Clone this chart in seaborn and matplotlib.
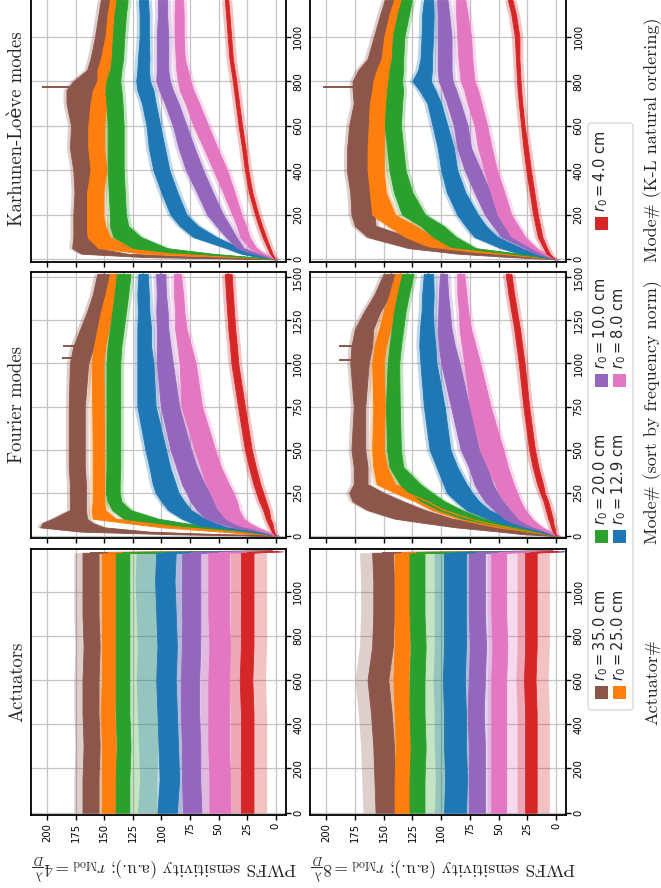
import matplotlib.pyplot as plt
import numpy as np
import seaborn as sns
from matplotlib.patches import FancyBboxPatch, Rectangle

# r0 values (legend order) and their tab10 colours
R0_CM = ["35.0", "25.0", "20.0", "12.9", "10.0", "8.0", "4.0"]
_tab = sns.color_palette("tab10")
COLORS = [_tab[5], _tab[1], _tab[2], _tab[0], _tab[4], _tab[6], _tab[3]]

# ---------------- Actuators ----------------
ACT_MODES = [0, 150, 300, 450, 600, 750, 900, 1050, 1176, 1183]
A4_MID = [
    [162, 162, 161, 162, 162, 161, 162, 162, 162, 3],
    [146, 146, 146, 147, 146, 146, 146, 146, 146, 3],
    [134, 134, 133, 134, 134, 134, 134, 134, 134, 3],
    [95, 93, 94, 95, 96, 95, 96, 97, 96, 3],
    [73, 74, 74, 75, 75, 74, 74, 74, 74, 3],
    [49, 49, 50, 50, 50, 49, 50, 50, 50, 3],
    [25, 25, 25, 25, 26, 25, 25, 25, 25, 3],
]
A4_HALF = [7, 6, 6, 8.5, 8, 9, 5.5]
A4_BELOW = [18.5, 15, 30, 17, 19, 19, 17]
A4_ABOVE = [14.5, 11, 11, 26, 14, 16, 15]

A8_MID = [
    [148, 149, 150, 152, 155, 151, 150, 150, 151, 3],
    [134, 134, 133, 134, 135, 134, 134, 134, 134, 3],
    [121, 121, 120, 121, 121, 120, 121, 121, 121, 3],
    [88, 87, 88, 88, 89, 88, 88, 88, 88, 3],
    [69, 69, 69, 70, 69, 68, 69, 69, 69, 3],
    [50, 50, 50, 50, 50, 49, 50, 50, 50, 3],
    [22, 22, 22, 22, 23, 22, 22, 22, 22, 3],
]
A8_HALF = [9, 6.5, 6.5, 9.5, 7, 6.5, 5]
A8_BELOW = [14, 12, 26, 16, 21, 28, 16]
A8_ABOVE = [20, 12, 10, 18, 11, 10, 12]

# ---------------- Fourier modes ----------------
FOU_MODES = [0, 10, 25, 50, 75, 100, 150, 200, 250, 300, 400, 500, 750, 1000,
             1100, 1200, 1300, 1400, 1520]
F4_MID = [
    [0, 70, 140, 178, 182, 180, 173, 173, 173, 173, 174, 174, 174, 172, 168, 163, 157, 153, 150],
    [0, 15, 37, 84, 115, 150, 155, 155, 155, 155, 155, 155, 155.5, 156, 154, 151, 148, 144, 140],
    [0, 10, 25, 66, 95, 118, 135, 141, 142.5, 142.5, 142, 142, 142, 142, 141, 139, 137, 135, 133],
    [0, 8, 22, 52, 63, 72, 84, 90, 95, 97.5, 101.5, 105, 113, 114, 115, 115, 115.5, 116, 116],
    [0, 5, 14, 31, 42, 52, 60, 64.5, 68, 72, 78, 83, 92.5, 97, 98, 99, 99.5, 100, 100.6],
    [0, 4, 11, 22, 30, 36, 41, 44, 47, 51, 57, 62, 73.5, 77, 80, 83, 84, 85, 86],
    [0, 1, 2.5, 3.8, 5, 6.7, 8.5, 11.5, 14, 16.5, 20.5, 24, 30, 35.8, 37, 38.5, 39.5, 40.5, 41.6],
]
F4_HALF = [
    [1, 20, 30, 28, 22, 15, 7, 7, 7, 7, 7, 7, 7, 8, 9, 8, 8, 7, 6],
    [1, 5, 10, 15, 15, 10, 6, 5, 5, 5, 5, 5, 5, 5, 5, 5, 5, 5, 5],
    [1, 4, 8, 12, 15, 15, 8, 6, 6, 6, 6, 6, 6, 6, 6, 6, 6, 6, 6],
    [1, 3, 6, 10, 10, 10, 10, 10, 10, 10, 9, 9, 8, 7, 6, 6, 5, 5, 4],
    [1, 2, 5, 7, 8, 9, 9, 10, 10, 10, 9, 9, 8, 7, 6, 5, 5, 4, 4],
    [1, 2, 4, 6, 7, 8, 9, 10, 10, 10, 9, 9, 9, 7, 6, 5, 4, 4, 3],
    [0.5, 0.5, 1, 1.5, 2, 2, 2.5, 3, 3, 3, 3, 3, 3, 3, 3, 3, 3, 3, 3],
]
F8_MID = [
    [0, 20, 34, 67, 92, 115, 139, 155, 165, 170, 170, 172, 171, 171, 169, 167, 160, 151, 143],
    [0, 10, 22, 43, 60, 75, 98, 112, 130, 148, 153, 155, 154, 155, 153, 149, 145, 140, 135],
    [0, 8, 18, 37, 55, 72, 92, 107, 118, 127, 139, 141, 142, 141.5, 140, 138, 136, 133, 129],
    [0, 6, 15, 30, 41, 51, 68, 77, 84, 88, 95, 101, 106, 111, 112, 112.5, 112, 111.5, 111],
    [0, 4, 11, 23, 31, 38, 47, 54, 59, 63, 68, 75, 83.5, 92, 95, 97, 97.5, 98, 98],
    [0, 3, 8, 16, 22, 27, 33, 38, 42, 45, 51, 56, 66, 73, 76, 79, 80.5, 82, 83],
    [0, 1, 2, 3, 4, 5, 7, 9, 12, 14, 18, 21, 26, 30, 32, 34, 36.5, 39, 41.5],
]
F8_HALF = [
    [1, 8, 15, 20, 22, 25, 25, 22, 15, 6, 6, 6, 5, 8, 9, 8, 7, 7, 7],
    [1, 4, 6, 8, 10, 10, 10, 10, 10, 8, 6, 5, 5, 5, 5, 5, 5, 5, 5],
    [1, 3, 5, 7, 8, 9, 10, 10, 10, 9, 6, 6, 6, 5, 5, 5, 5, 5, 5],
    [1, 2, 4, 7, 8, 9, 10, 10, 11, 10, 9, 9, 9, 7, 7, 6, 5, 5, 4],
    [1, 2, 3, 6, 7, 7, 7, 8, 8, 8, 8, 8, 8, 8, 7, 6, 5, 4, 3],
    [1, 1.5, 3, 4, 5, 6, 6, 7, 8, 8, 9, 10, 9, 7, 6, 5, 4, 4, 3],
    [0.5, 0.5, 1, 1.5, 1.5, 2, 2, 2, 2, 2.5, 2.5, 2.5, 2.5, 2.5, 2.5, 2.5, 2.5, 2.5, 2.5],
]

# ---------------- Karhunen-Loeve modes ----------------
KL_MODES = [0, 10, 25, 50, 100, 150, 200, 300, 400, 500, 600, 700, 760, 800,
            850, 900, 1000, 1100, 1165]
K4_MID = [
    [0, 90, 150, 167, 165, 167, 168, 168, 168, 170, 169, 171, 171, 167, 159, 156, 153, 150, 147],
    [0, 40, 95, 140, 155, 157, 158, 158, 155, 157, 157, 155, 153, 150, 151, 148, 144, 142, 140],
    [0, 30, 70, 110, 130, 137, 138, 139, 140, 140, 140, 141, 142, 142, 140, 138.5, 137.5, 136, 134.5],
    [0, 12, 25, 37, 62, 76, 85, 93, 100, 104, 107, 111, 114, 116, 116, 115.5, 115, 115, 115.7],
    [0, 8, 18, 31, 39, 46, 53, 62, 71, 78, 84, 91, 96, 98.5, 99, 99, 99, 99, 99],
    [0, 6, 12, 20, 27, 30, 34, 41, 48.5, 57, 65.5, 73, 78, 80, 82, 83.5, 84.5, 84.5, 84.5],
    [0.5, 2, 4, 6, 10, 13.5, 16.6, 22, 25.5, 28, 31, 33.5, 35, 36, 37.5, 39, 40.5, 42, 43],
]
K4_HALF = [
    [1, 25, 20, 11, 12, 10, 9, 8, 9, 10, 10, 12, 12, 10, 6, 6, 5, 5, 6],
    [1, 10, 20, 15, 10, 8, 7, 7, 7, 7, 7, 7, 7, 6, 5, 5, 5, 5, 5],
    [1, 8, 15, 15, 12, 8, 7, 7, 7, 7, 7, 7, 7, 6, 5, 5, 5, 5, 5],
    [1, 3, 5, 6, 10, 8, 7, 7, 7, 7, 6, 6, 7, 6, 5, 5, 4, 4, 4],
    [1, 2, 3, 3, 4.5, 6, 7, 7, 7.5, 7, 6, 6, 6, 6, 5, 5, 5, 4, 4],
    [1, 1.5, 2, 3, 4, 4, 4, 5, 6, 6, 6.5, 6, 6, 5.5, 5, 4, 4, 4, 3.5],
    [0.5, 0.7, 1, 1.2, 1.5, 1.5, 1.5, 1.5, 1.5, 1.5, 1.5, 1.5, 1.5, 1.5, 1.5, 1.5, 1.5, 1.5, 1.5],
]
K8_MID = [
    [0, 30, 70, 110, 146, 166, 168, 168, 170, 169.7, 168, 164, 165, 165, 163, 158, 153.5, 148, 143],
    [0, 20, 50, 96, 119, 134, 150, 155, 157, 157, 156, 155, 153, 152, 150, 147, 144.5, 140, 136],
    [0, 15, 40, 80, 97, 108, 124, 133, 138, 140, 142, 141, 140, 140, 139, 138, 137, 133, 130],
    [0, 12, 25, 39, 61, 70, 77, 87, 93, 96, 101, 106, 112, 117, 114, 113, 112, 111.5, 111],
    [0, 7, 15, 24, 40.5, 48, 55, 64, 72.5, 80, 83, 89, 93, 96, 97, 97, 97, 98, 99],
    [0, 6, 12, 20, 33, 39, 45, 51, 57, 62, 65.5, 71, 74, 77, 78, 79, 80, 82, 83],
    [1.5, 4, 7, 9.5, 14, 16, 18, 21, 24, 26.5, 29, 31, 32, 32.5, 33, 33.5, 34, 37, 40],
]
K8_HALF = [
    [1, 10, 15, 18, 18, 9, 10, 11, 12, 12, 12, 12, 12, 12, 9, 6, 5, 5, 6],
    [1, 5, 10, 12, 12, 12, 10, 7, 7, 7, 7, 7, 7, 7, 6, 5, 5, 5, 5],
    [1, 4, 8, 10, 10, 10, 10, 8, 7, 7, 7, 7, 7, 6, 6, 5, 5, 5, 4.5],
    [1, 3, 6, 9, 10, 9, 9, 8, 7, 7, 6.5, 6, 7, 8, 6, 5, 5, 5, 4],
    [1, 2, 3, 3, 7, 7, 7, 7, 7, 6, 6, 6, 6, 6, 6, 6, 6, 5, 4.5],
    [1, 1.5, 2, 3, 6, 6, 6, 6, 5.5, 6, 5.5, 6, 6, 6, 6, 6, 6, 5, 4],
    [0.5, 1, 1.5, 1.5, 2, 2, 2, 2, 2, 2, 1.5, 1.5, 1.5, 1.5, 1.5, 1.5, 2, 2, 2],
]

# isolated spikes of the r0 = 35 cm curve: (mode, peak value)
F4_SPIKES = [(1030, 187), (1100, 186)]
F8_SPIKES = [(1020, 189), (1100, 189)]
K4_SPIKES = [(772, 204)]
K8_SPIKES = [(775, 203)]

SENS_TICKS = list(range(0, 201, 25))
ACT_TICKS = list(range(0, 1001, 200))
FOU_TICKS = list(range(0, 1501, 250))

W, H = 661, 888
SERIF = ["cmr10", "DejaVu Serif"]

sns.set_theme(style="whitegrid", rc={
    "axes.edgecolor": "black",
    "axes.linewidth": 1.3,
    "grid.color": "#c4c4c4",
    "grid.linewidth": 0.9,
    "xtick.bottom": True,
    "ytick.right": True,
    "xtick.color": "black",
    "ytick.color": "black",
    "xtick.major.size": 3.5,
    "ytick.major.size": 3.5,
    "xtick.major.width": 1,
    "ytick.major.width": 1,
})


def px_axes(fig, x0, y0, x1, y1):
    return fig.add_axes([x0 / W, 1 - y1 / H, (x1 - x0) / W, (y1 - y0) / H])


def draw_bands(ax, modes, mids, halves, below=None, above=None, spikes=(), light_pad=3.0):
    m = np.asarray(modes, dtype=float)
    for i, c in enumerate(COLORS):
        mid = np.asarray(mids[i], dtype=float)
        h = np.asarray(halves[i], dtype=float)
        lo = mid - (below[i] if below is not None else h + light_pad)
        hi = mid + (above[i] if above is not None else h + light_pad)
        ax.fill_betweenx(m, lo, hi, color=c, alpha=0.28, lw=0)
    for i, c in enumerate(COLORS):
        mid = np.asarray(mids[i], dtype=float)
        h = np.asarray(halves[i], dtype=float)
        ax.fill_betweenx(m, mid - h, mid + h, color=c, lw=0.6, ec=c)
        sns.lineplot(x=mid, y=m, orient="y", sort=False, estimator=None,
                     color=c, lw=1.0, ax=ax)
    brown_mid = np.asarray(mids[0], dtype=float)
    for mode, peak in spikes:
        base = np.interp(mode, m, brown_mid)
        ax.plot([base, peak], [mode, mode], color=COLORS[0], lw=1.4,
                solid_capstyle="butt")


def style_panel(ax, ylim, yticks, show_sens_labels):
    ax.set_xlim(214, -8.5)
    ax.set_ylim(*ylim)
    ax.set_xticks(SENS_TICKS)
    ax.set_yticks(yticks)
    ax.set_xlabel("")
    ax.set_ylabel("")
    ax.yaxis.tick_right()
    ax.tick_params(axis="x", bottom=True, labelbottom=show_sens_labels,
                   labelrotation=90, labelsize=7.2, pad=2)
    ax.tick_params(axis="y", right=True, left=False, labelright=True,
                   labelleft=False, labelrotation=90, labelsize=7.2, pad=2)
    for lbl in ax.get_yticklabels():
        lbl.set_va("center")
    for sp in ax.spines.values():
        sp.set_visible(True)
        sp.set_color("black")
    ax.grid(True)


fig = plt.figure(figsize=(W / 100, H / 100), dpi=100)

COL_X = [(31, 285.5), (310, 566)]
ROW_ACT = (549, 815)
ROW_FOU = (271.7, 537.7)
ROW_KL = (-4.3, 261.7)

panels = [
    (ROW_ACT, 0, ACT_MODES, A4_MID, A4_HALF, A4_BELOW, A4_ABOVE, (), (-10.4, 1193), ACT_TICKS, True),
    (ROW_ACT, 1, ACT_MODES, A8_MID, A8_HALF, A8_BELOW, A8_ABOVE, (), (-10.4, 1193), ACT_TICKS, True),
    (ROW_FOU, 0, FOU_MODES, F4_MID, F4_HALF, None, None, F4_SPIKES, (-10, 1532), FOU_TICKS, False),
    (ROW_FOU, 1, FOU_MODES, F8_MID, F8_HALF, None, None, F8_SPIKES, (-10, 1532), FOU_TICKS, False),
    (ROW_KL, 0, KL_MODES, K4_MID, K4_HALF, None, None, K4_SPIKES, (-10.8, 1184), ACT_TICKS, False),
    (ROW_KL, 1, KL_MODES, K8_MID, K8_HALF, None, None, K8_SPIKES, (-10.8, 1184), ACT_TICKS, False),
]
for (y0, y1), col, modes, mids, halves, below, above, spikes, ylim, yticks, lab in panels:
    x0, x1 = COL_X[col]
    ax = px_axes(fig, x0, y0, x1, y1)
    draw_bands(ax, modes, mids, halves, below, above, spikes)
    style_panel(ax, ylim, yticks, lab)

# overlay in pixel coordinates for the rotated texts and the legend
ov = fig.add_axes([0, 0, 1, 1])
ov.set_xlim(0, W)
ov.set_ylim(H, 0)
ov.axis("off")

for text, yc in [("Actuators", 682), ("Fourier modes", 404.7), ("Karhunen-Loève modes", 128.7)]:
    ov.text(17, yc, text, rotation=90, ha="center", va="center", fontsize=13.5, family=SERIF)

for text, yc in [("Actuator#", 682), ("Mode# (sort by frequency norm)", 412),
                 ("Mode# (K-L natural ordering)", 140)]:
    ov.text(653, yc, text, rotation=90, ha="center", va="center", fontsize=13, family=SERIF)

for k, (x0, x1) in zip(["4", "8"], COL_X):
    ov.text((x0 + x1) / 2 + 6, 866,
            r"PWFS sensitivity (a.u.); $r_{\mathrm{Mod}} = " + k + r"\frac{\lambda}{D}$",
            rotation=180, ha="center", va="center", fontsize=12.5, family=SERIF,
            math_fontfamily="cm")

# legend (4 columns x 2 rows in the unrotated figure)
ov.add_patch(FancyBboxPatch((588, 123), 45, 587, boxstyle="round,pad=0,rounding_size=3",
                            fc="white", ec="#cccccc", lw=0.8, alpha=0.9))
LEG_ROW_X = [601, 619]
LEG_COL_Y = [692, 536, 380, 223]
for i, (lab, c) in enumerate(zip(R0_CM, COLORS)):
    cx = LEG_ROW_X[i % 2]
    cy = LEG_COL_Y[i // 2]
    ov.add_patch(Rectangle((cx - 6.5, cy - 6.5), 13, 13, fc=c, ec="none"))
    ov.text(cx, cy - 11, r"$r_0 = " + lab + r"$ cm", rotation=90, ha="center",
            va="bottom", fontsize=10.5)

fig.savefig("out.png", dpi=100)
